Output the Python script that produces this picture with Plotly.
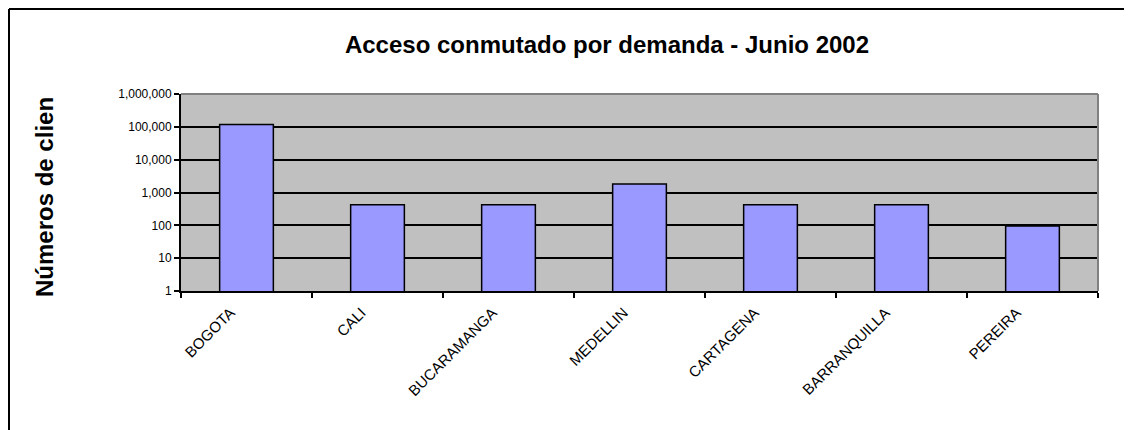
import plotly.graph_objects as go

cities = ["BOGOTA", "CALI", "BUCARAMANGA", "MEDELLIN", "CARTAGENA", "BARRANQUILLA", "PEREIRA"]
clientes = [118000, 420, 420, 1800, 420, 420, 95]
tick_vals = [1, 10, 100, 1000, 10000, 100000, 1000000]
tick_text = ["1", "10", "100", "1,000", "10,000", "100,000", "1,000,000"]
title_text = "Acceso conmutado por demanda - Junio 2002"
ytitle_text = "Números de clien"

# the page body has an 8px margin, so figure pixel = page pixel - 8
W, H = 1124, 422
L, R, T, B = 173, 34, 86, 139
pw, ph = W - L - R, H - T - B

def px_x(x):
    return (x - L) / pw

def px_y(y):
    return (H - B - y) / ph

fig = go.Figure()
fig.add_trace(go.Bar(
    x=cities, y=clientes,
    marker=dict(color="#9999FF", line=dict(color="black", width=1.5)),
    width=0.41,
))

font_family = "Liberation Sans, Arial, sans-serif"

fig.update_layout(
    width=W, height=H,
    margin=dict(l=L, r=R, t=T, b=B),
    paper_bgcolor="white",
    plot_bgcolor="#C0C0C0",
    showlegend=False,
    font=dict(family=font_family, color="black"),
    title=dict(text="<b>" + title_text + "</b>", x=px_x(599), xref="paper",
               xanchor="center", y=1 - 37 / H, yanchor="middle",
               font=dict(size=24, family=font_family, color="black")),
    xaxis=dict(
        type="category", tickson="boundaries", ticks="outside", ticklen=5,
        tickcolor="black", tickwidth=1.5, tickangle=-45,
        tickfont=dict(size=15, family=font_family, color="black"),
        ticklabelshift=-16, ticklabelstandoff=5,
        showline=True, linecolor="black", linewidth=2, mirror=False,
        showgrid=False, fixedrange=True,
    ),
    yaxis=dict(
        type="log", range=[0, 6], tickvals=tick_vals, ticktext=tick_text,
        ticks="outside", ticklen=5, tickcolor="black", tickwidth=1.5,
        tickfont=dict(size=12, family=font_family, color="black"),
        showline=True, linecolor="black", linewidth=2,
        showgrid=True, gridcolor="black", gridwidth=1.5,
        zeroline=False, fixedrange=True,
    ),
    bargap=0.59,
)

# plot area border (top and right in gray)
fig.add_shape(type="line", xref="paper", yref="paper", x0=0, x1=1, y0=1, y1=1,
              line=dict(color="#808080", width=2))
fig.add_shape(type="line", xref="paper", yref="paper", x0=1, x1=1, y0=0, y1=1,
              line=dict(color="#808080", width=2))

# outer chart frame (left and top visible)
fig.add_shape(type="line", xref="paper", yref="paper",
              x0=px_x(1), x1=px_x(W + 10), y0=px_y(1), y1=px_y(1),
              line=dict(color="black", width=2))
fig.add_shape(type="line", xref="paper", yref="paper",
              x0=px_x(1), x1=px_x(1), y0=px_y(1), y1=px_y(H + 10),
              line=dict(color="black", width=2))

fig.add_annotation(
    text="<b>" + ytitle_text + "</b>", xref="paper", yref="paper",
    x=px_x(36), y=px_y(189), xanchor="center", yanchor="middle",
    textangle=-90, showarrow=False,
    font=dict(size=24, family=font_family, color="black"),
)

fig.write_html("out.html")
